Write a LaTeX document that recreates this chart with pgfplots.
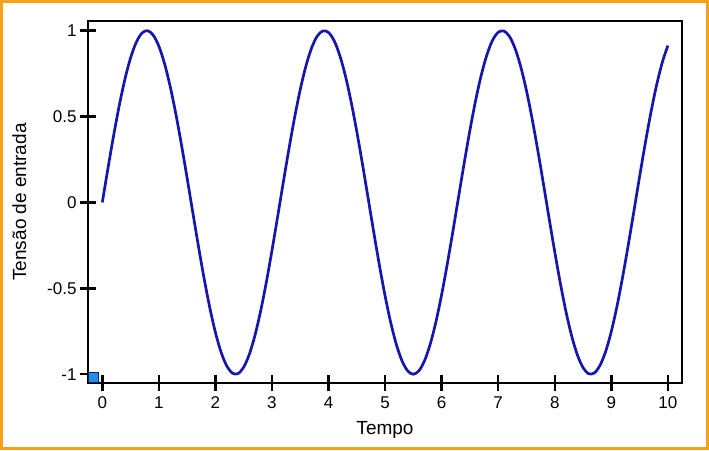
\documentclass[border=0pt]{standalone}
\usepackage{pgfplots}
\pgfplotsset{compat=1.18}
\usepackage{fontspec}
\setmainfont{Liberation Sans}
\definecolor{frameor}{RGB}{247,160,28}
\definecolor{curveblue}{RGB}{22,22,172}
\definecolor{cornerblue}{RGB}{30,144,230}
\begin{document}
\begin{tikzpicture}
\path (0,0) rectangle (709pt,450pt);
\begin{axis}[
  at={(88pt,67pt)}, anchor=south west,
  scale only axis, width=594pt, height=362pt,
  xmin=-0.253, xmax=10.25, ymin=-1.051, ymax=1.056,
  axis line style={line width=2.4pt, black},
  every tick/.style={line width=2.4pt, black},
  tick align=center, major tick length=16pt,
  xtick={0,1,...,10}, ytick={-1,-0.5,0,0.5,1},
  yticklabels={-1,-0.5,0,0.5,1},
  xtick pos=bottom, ytick pos=left,
  /pgf/number format/assume math mode=true,
  tick label style={font=\fontsize{17}{20}\selectfont},
  xticklabel style={yshift=-2pt},
  label style={font=\fontsize{19}{22}\selectfont},
  xlabel={Tempo}, ylabel={Tensão de entrada},
  xlabel style={yshift=-6pt},
  ylabel style={yshift=14pt},
  clip=false,
]
\addplot[curveblue, line width=2.7pt, smooth] coordinates {
(0.0,0.0000) (0.1,0.1987) (0.2,0.3894) (0.3,0.5646) (0.4,0.7174) (0.5,0.8415)
(0.6,0.9320) (0.7,0.9854) (0.8,0.9996) (0.9,0.9738) (1.0,0.9093)
(1.1,0.8085) (1.2,0.6755) (1.3,0.5155) (1.4,0.3350) (1.5,0.1411)
(1.6,-0.0584) (1.7,-0.2555) (1.8,-0.4425) (1.9,-0.6119) (2.0,-0.7568)
(2.1,-0.8716) (2.2,-0.9516) (2.3,-0.9937) (2.4,-0.9962) (2.5,-0.9589)
(2.6,-0.8835) (2.7,-0.7728) (2.8,-0.6313) (2.9,-0.4646) (3.0,-0.2794)
(3.1,-0.0831) (3.2,0.1165) (3.3,0.3115) (3.4,0.4941) (3.5,0.6570)
(3.6,0.7937) (3.7,0.8987) (3.8,0.9679) (3.9,0.9985) (4.0,0.9894)
(4.1,0.9407) (4.2,0.8546) (4.3,0.7344) (4.4,0.5849) (4.5,0.4121)
(4.6,0.2229) (4.7,0.0248) (4.8,-0.1743) (4.9,-0.3665) (5.0,-0.5440)
(5.1,-0.6999) (5.2,-0.8278) (5.3,-0.9228) (5.4,-0.9809) (5.5,-1.0000)
(5.6,-0.9792) (5.7,-0.9193) (5.8,-0.8228) (5.9,-0.6935) (6.0,-0.5366)
(6.1,-0.3582) (6.2,-0.1656) (6.3,0.0336) (6.4,0.2315) (6.5,0.4202)
(6.6,0.5921) (6.7,0.7403) (6.8,0.8592) (6.9,0.9437) (7.0,0.9906)
(7.1,0.9980) (7.2,0.9657) (7.3,0.8948) (7.4,0.7880) (7.5,0.6503)
(7.6,0.4864) (7.7,0.3032) (7.8,0.1078) (7.9,-0.0919) (8.0,-0.2879)
(8.1,-0.4724) (8.2,-0.6381) (8.3,-0.7783) (8.4,-0.8876) (8.5,-0.9614)
(8.6,-0.9969) (8.7,-0.9927) (8.8,-0.9489) (8.9,-0.8672) (9.0,-0.7510)
(9.1,-0.6049) (9.2,-0.4346) (9.3,-0.2470) (9.4,-0.0496) (9.5,0.1498)
(9.6,0.3433) (9.7,0.5230) (9.8,0.6819) (9.9,0.8136) (10.0,0.9129)
};
\draw[draw={rgb,255:red,10;green,30;blue,90}, line width=1pt, fill=cornerblue]
  (rel axis cs:0,0) ++(0.5pt,0.5pt) rectangle ++(10pt,10pt);
\end{axis}
\draw[frameor, line width=3pt] (1.5pt,1.5pt) rectangle (707.5pt,448.5pt);
\end{tikzpicture}
\end{document}
